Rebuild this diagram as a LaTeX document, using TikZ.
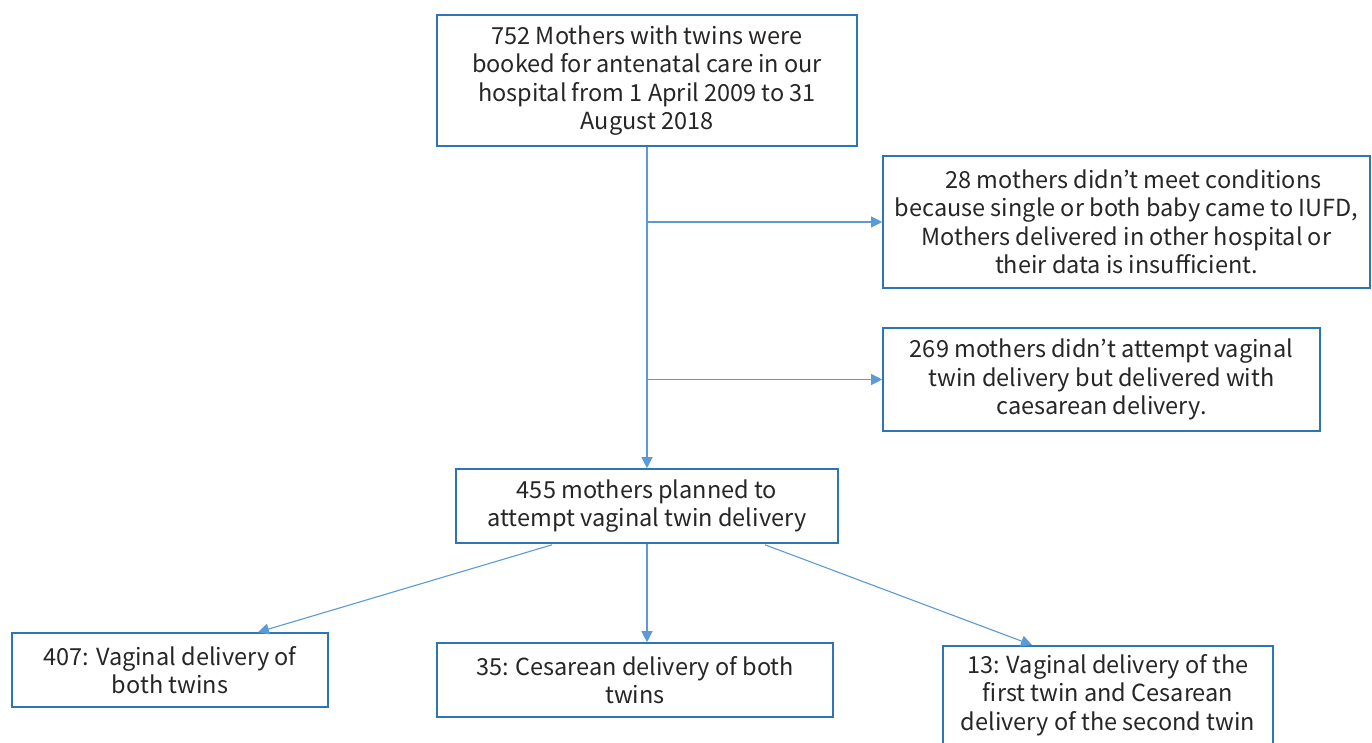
\documentclass[tikz,border=0pt]{standalone}
\usepackage{fontspec}
\setmainfont{Noto Sans CJK JP}
\usetikzlibrary{arrows.meta,calc}
\definecolor{boxc}{HTML}{2E75B6}
\definecolor{linec}{HTML}{5B9BD5}
\tikzset{
  box/.style={draw=boxc,line width=1.6pt,fill=white,inner sep=0pt,align=center,
    font=\fontsize{23.5}{28.5}\selectfont,text=black!85},
  arr/.style={draw=linec,line width=1.1pt,-{Triangle[length=11pt,width=11pt]}},
  ln/.style={draw=linec,line width=1.1pt}
}
\begin{document}
\begin{tikzpicture}[x=1pt,y=-1pt]
\useasboundingbox[fill=white] (0,0) rectangle (1372,743);
\node[box,minimum width=420pt,minimum height=131pt] (b1) at (647,80.5)
  {752 Mothers with twins were\\booked for antenatal care in our\\hospital from 1 April 2009 to 31\\August 2018};
\node[box,minimum width=487pt,minimum height=132pt] (b2) at (1126.5,222)
  {\hspace*{14pt}28 mothers didn’t meet conditions\\because single or both baby came to IUFD,\\Mothers delivered in other hospital or\\their data is insufficient.};
\node[box,minimum width=437pt,minimum height=103pt] (b3) at (1101.5,379.5)
  {269 mothers didn’t attempt vaginal\\twin delivery but delivered with\\caesarean delivery.};
\node[box,minimum width=382pt,minimum height=74pt] (b4) at (647,506)
  {455 mothers planned to\\attempt vaginal twin delivery};
\node[box,minimum width=316pt,minimum height=74pt] (b5) at (170,670)
  {407: Vaginal delivery of\\both twins};
\node[box,minimum width=396pt,minimum height=74pt] (b6) at (635,680)
  {35: Cesarean delivery of both\\twins};
\node[box,minimum width=330pt,minimum height=98pt,anchor=north] (b7) at (1108,645)
  {13: Vaginal delivery of the\\first twin and Cesarean\\delivery of the second twin};
\draw[ln] (b1.south) -- (b1.south |- b3.west);
\draw[arr] (b1.south |- b2.west) -- (b2.west);
\draw[arr] (b1.south |- b3.west) -- (b3.west);
\draw[arr] (b1.south |- b3.west) -- (b4.north);
\draw[arr] ($(b4.south)+(-95,1)$) -- ($(b5.north)+(88,0)$);
\draw[arr] (b4.south) -- (b6.north -| b4.south);
\draw[arr] ($(b4.south)+(118,1)$) -- ($(b7.north)+(-76,0)$);
\end{tikzpicture}
\end{document}
